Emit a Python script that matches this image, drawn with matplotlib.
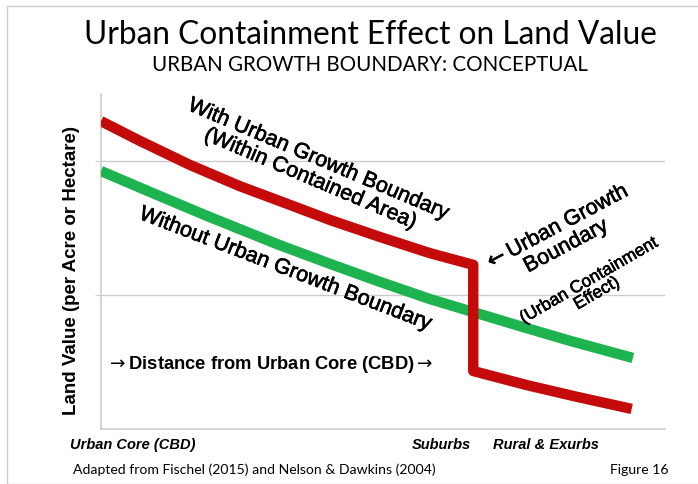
import matplotlib
matplotlib.use("Agg")
import matplotlib.pyplot as plt
import matplotlib.patheffects as pe
from matplotlib.patches import Rectangle

# distance from core (arbitrary units) and land value (arbitrary units)
dist_with  = [0.0, 0.69, 1.58, 2.46, 3.35, 4.06, 4.95, 5.83, 6.60, 6.60, 7.55, 8.44, 9.41]
value_with = [91.9, 86.0, 78.8, 72.5, 66.9, 62.4, 57.3, 52.5, 49.0, 17.3, 13.1, 9.6, 6.0]
dist_without  = [0.0, 0.99, 1.88, 3.12, 4.06, 4.95, 5.83, 6.60, 7.43, 8.32, 9.43]
value_without = [77.0, 69.9, 63.6, 55.2, 49.3, 43.9, 38.8, 34.9, 30.7, 26.3, 21.2]

zone_pos    = [0.57, 6.03, 7.89]
zone_labels = ['Urban Core (CBD)', 'Suburbs', 'Rural & Exurbs']

W, H = 698, 485
def px(x, y):
    return x / W, 1 - y / H

arial = ['Liberation Sans', 'DejaVu Sans']
thick = [pe.withStroke(linewidth=0.45, foreground='black')]

fig = plt.figure(figsize=(6.98, 4.85), dpi=100)
fig.patches.append(Rectangle((7 / W, 0), 1, 1 - 7 / H, transform=fig.transFigure,
                             fill=False, edgecolor='#cfcfcf', lw=1))

ax = fig.add_axes([101 / W, 55 / H, 564 / W, 335 / H])
ax.plot(dist_without, value_without, color='#1db34f', lw=7.5, solid_capstyle='butt',
        solid_joinstyle='round', zorder=3)
ax.plot(dist_with, value_with, color='#c40a0a', lw=7.5, solid_joinstyle='round',
        solid_capstyle='butt', zorder=4)

ax.set_xlim(0, 10)
ax.set_ylim(0, 100)
ax.set_yticks([40, 80])
ax.set_yticklabels([])
ax.tick_params(axis='y', length=4, color='#cccccc')
ax.grid(axis='y', color='#cccccc', lw=1)
ax.set_xticks(zone_pos)
ax.set_xticklabels(zone_labels, fontweight='bold', fontstyle='italic', family=arial, fontsize=10.5)
ax.tick_params(axis='x', length=0, pad=6)
for s in ['top', 'right']:
    ax.spines[s].set_visible(False)
for s in ['left', 'bottom']:
    ax.spines[s].set_color('#cccccc')
    ax.spines[s].set_linewidth(1.2)

ax.set_ylabel('Land Value (per Acre or Hectare)', fontweight='bold', family=arial, fontsize=13.5)
ax.yaxis.set_label_coords(-0.037, 0.475)

fig.text(*px(370, 35), 'Urban Containment Effect on Land Value', ha='center', va='center',
         family='Lato', fontsize=22.8)
fig.text(*px(370, 65), 'URBAN GROWTH BOUNDARY: CONCEPTUAL', ha='center', va='center',
         family='Lato', fontsize=14.8)

fig.text(*px(314, 170), 'With Urban Growth Boundary\n(Within Contained Area)', ha='center', va='center',
         rotation=-23, rotation_mode='anchor', family=arial, fontsize=15.5, linespacing=1.0,
         path_effects=thick)
fig.text(*px(285, 270), 'Without Urban Growth Boundary', ha='center', va='center',
         rotation=-21, rotation_mode='anchor', family=arial, fontsize=15.5, path_effects=thick)
fig.text(*px(270, 365), r'$\rightarrow$Distance from Urban Core (CBD)$\rightarrow$', ha='center',
         va='center', family=arial, fontweight='bold', fontsize=13.2)
fig.text(*px(561, 238), '$\\leftarrow$Urban Growth\nBoundary', ha='center', va='center',
         rotation=28, rotation_mode='anchor', family=arial, fontsize=15.5, linespacing=1.0,
         path_effects=thick)
fig.text(*px(593, 288), '(Urban Containment\nEffect)', ha='center', va='center',
         rotation=30, rotation_mode='anchor', family=arial, fontsize=12.5, linespacing=1.0,
         path_effects=thick)

fig.text(*px(73, 470), 'Adapted from Fischel (2015) and Nelson & Dawkins (2004)', ha='left', va='center',
         family='Lato', fontsize=10.1)
fig.text(*px(668, 470), 'Figure 16', ha='right', va='center', family='Lato', fontsize=10.1)

fig.savefig('out.png', dpi=100)
